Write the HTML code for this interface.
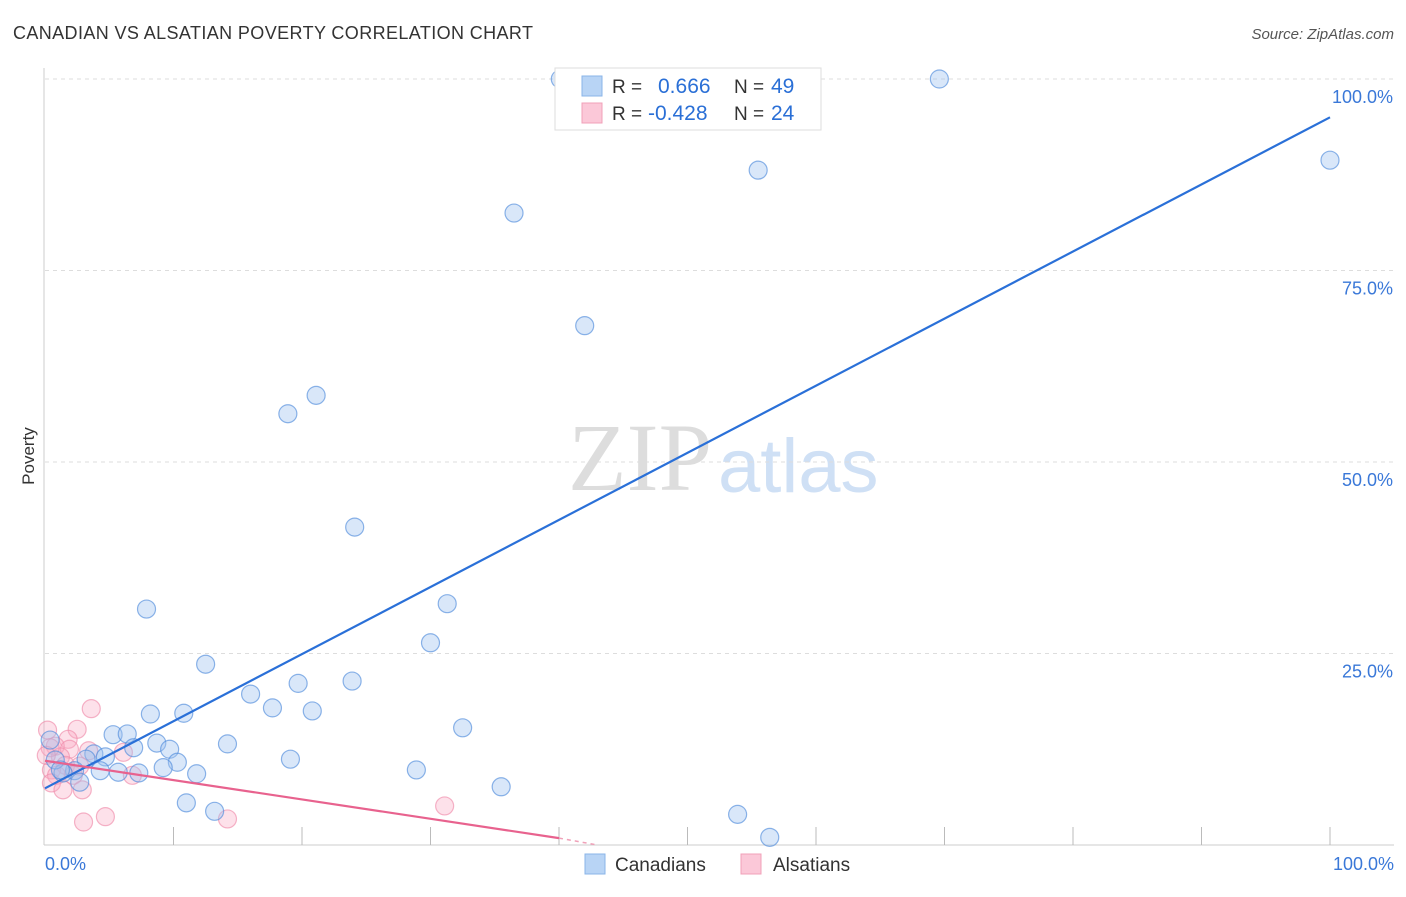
<!DOCTYPE html>
<html><head><meta charset="utf-8"><style>
body{margin:0;background:#fff;font-family:"Liberation Sans",sans-serif}
</style></head><body>
<svg width="1406" height="892" xmlns="http://www.w3.org/2000/svg">
<text x="13" y="39" font-size="18" fill="#333" textLength="520">CANADIAN VS ALSATIAN POVERTY CORRELATION CHART</text>
<text x="1394" y="39" font-size="15" fill="#555" font-style="italic" text-anchor="end">Source: ZipAtlas.com</text>
<text x="712" y="490" font-size="96" fill="#ddd" font-family="Liberation Serif" text-anchor="end">ZIP</text>
<text x="718" y="492" font-size="76" fill="#cfe0f5">atlas</text>
<text x="34" y="456" font-size="17" fill="#333" transform="rotate(-90 34 456)" text-anchor="middle">Poverty</text>
<g id="grid"></g><g id="pts"></g><g id="lines"></g>
<g>
<rect x="555" y="68" width="266" height="62" fill="#fff" stroke="#ddd"/>
<rect x="582" y="76" width="20" height="20" fill="#b8d4f5" stroke="#8ab4e8"/>
<rect x="582" y="103" width="20" height="20" fill="#fbc8d8" stroke="#f0a0b8"/>
<text x="612" y="93" font-size="19" fill="#333">R =</text><text x="658" y="93" font-size="21" fill="#2a6fd6">0.666</text>
<text x="734" y="93" font-size="19" fill="#333">N =</text><text x="771" y="93" font-size="21" fill="#2a6fd6">49</text>
<text x="612" y="120" font-size="19" fill="#333">R =</text><text x="648" y="120" font-size="21" fill="#2a6fd6">-0.428</text>
<text x="734" y="120" font-size="19" fill="#333">N =</text><text x="771" y="120" font-size="21" fill="#2a6fd6">24</text>
</g>
<g>
<rect x="585" y="854" width="20" height="20" fill="#b8d4f5" stroke="#8ab4e8"/>
<text x="615" y="871" font-size="19" fill="#333">Canadians</text>
<rect x="741" y="854" width="20" height="20" fill="#fbc8d8" stroke="#f0a0b8"/>
<text x="773" y="871" font-size="19" fill="#333">Alsatians</text>
</g>
</svg>
<script>
const blueX=[40.1,69.6,100,55.5,36.5,42.0,21.1,18.9,24.1,31.3,7.9,30.0,12.5,19.7,23.9,16.0,17.7,20.8,8.2,10.8,32.5,5.3,6.4,14.2,8.7,6.9,9.7,3.8,4.7,3.2,10.3,19.1,9.2,5.7,4.3,7.3,11.8,28.9,2.3,1.4,2.7,35.5,11.0,13.2,53.9,56.4,0.4,0.8,1.2];
const blueY=[100,100,89.4,88.1,82.5,67.8,58.7,56.3,41.5,31.5,30.8,26.4,23.6,21.1,21.4,19.7,17.9,17.5,17.1,17.2,15.3,14.4,14.5,13.2,13.3,12.7,12.5,11.9,11.5,11.2,10.8,11.2,10.1,9.5,9.7,9.4,9.3,9.8,9.7,9.4,8.2,7.6,5.5,4.4,4.0,1.0,13.7,11.1,9.8];
const pinkX=[3.6,0.2,2.5,1.8,0.8,1.9,3.4,6.1,1.2,1.6,0.5,0.9,2.2,6.8,0.5,1.4,2.9,31.1,4.7,3.0,14.2,0.4,2.7,0.1];
const pinkY=[17.8,15.0,15.1,13.8,12.9,12.5,12.3,12.1,11.5,10.4,9.8,9.1,9.1,9.1,8.1,7.2,7.2,5.1,3.7,3.0,3.4,12.7,10.3,11.7];
const blueLine=[[0,7.4],[100,95]];
const pinkLine=[[0,11.0],[40,0.9]];
const pinkDash=[[40,0.9],[43,0]];
const yTicks=[25,50,75,100];
const xTicks=[0,10,20,30,40,50,60,70,80,90,100];
const X=v=>45+v*12.85, Y=v=>845-v*7.66;
const NS='http://www.w3.org/2000/svg';
function mk(p,t,a){const e=document.createElementNS(NS,t);for(const k in a)e.setAttribute(k,a[k]);document.getElementById(p).appendChild(e);return e;}
let ax=mk('grid','line',{x1:44,y1:68,x2:44,y2:845,stroke:'#ccc'});


let bx=mk('grid','line',{x1:44,y1:845,x2:1394,y2:845,stroke:'#ccc'});


yTicks.forEach(t=>{
 let g=mk('grid','line',{x1:45,x2:1394,y1:Y(t),y2:Y(t),stroke:'#ddd','stroke-dasharray':'4,4'});
 
 
 let l=mk('grid','text',{x:1393,y:Y(t)+24,'font-size':18,fill:'#3a78d8','text-anchor':'end'});l.textContent=t.toFixed(1)+'%';
 
 
});
xTicks.forEach(t=>{if(t==0)return;
 let g=mk('grid','line',{x1:X(t),x2:X(t),y1:827,y2:845,stroke:'#bbb'});
 
 
});
[[0,'start',45],[100,'end',1394]].forEach(([t,a,x])=>{let l=mk('grid','text',{x:x,y:870,'font-size':18,fill:'#3a78d8','text-anchor':a});l.textContent=t.toFixed(1)+'%';
 
 });
pinkX.forEach((v,i)=>{let c=mk('pts','circle',{cx:X(v),cy:Y(pinkY[i]),r:9,fill:'rgba(248,170,195,0.35)',stroke:'rgba(240,140,170,0.65)','stroke-width':1.2});
 
 });
blueX.forEach((v,i)=>{let c=mk('pts','circle',{cx:X(v),cy:Y(blueY[i]),r:9,fill:'rgba(160,195,240,0.4)',stroke:'rgba(80,140,220,0.65)','stroke-width':1.2});
 
 });
let b=mk('lines','line',{x1:X(blueLine[0][0]),y1:Y(blueLine[0][1]),x2:X(blueLine[1][0]),y2:Y(blueLine[1][1]),stroke:'#2a70d8','stroke-width':2.2});


let p=mk('lines','line',{x1:X(pinkLine[0][0]),y1:Y(pinkLine[0][1]),x2:X(pinkLine[1][0]),y2:Y(pinkLine[1][1]),stroke:'#e8628e','stroke-width':2.2});


let d=mk('lines','line',{x1:X(pinkDash[0][0]),y1:Y(pinkDash[0][1]),x2:X(pinkDash[1][0]),y2:Y(pinkDash[1][1]),stroke:'#f0a0b8','stroke-width':1.5,'stroke-dasharray':'4,4'});


</script>
</body></html>
